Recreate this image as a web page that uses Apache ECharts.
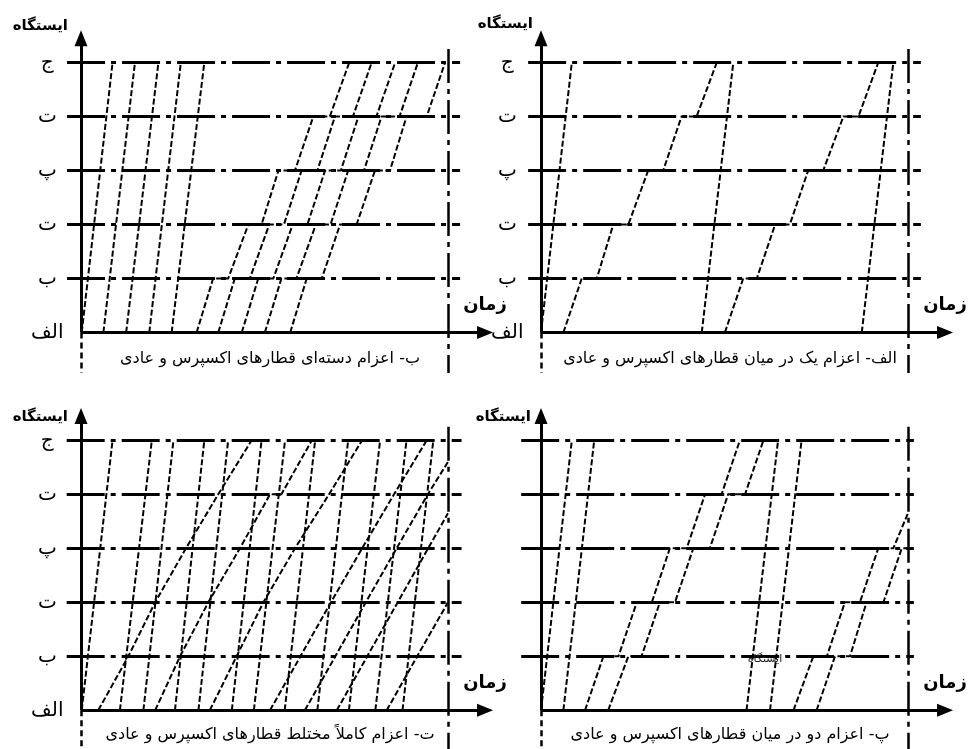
<!DOCTYPE html>
<html>
<head>
<meta charset="utf-8">
<script src="https://cdn.jsdelivr.net/npm/echarts@6/dist/echarts.min.js"></script>
<style>
  html, body { margin: 0; padding: 0; background: #fff; }
  #chart { width: 968px; height: 749px; }
</style>
</head>
<body>
<div id="chart"></div>
<script>
// Stations from the origin (bottom) to the terminus (top)
const stations = ['الف', 'ب', 'ت', 'پ', 'ت', 'ج'];
// An ordinary train arrives at and departs from every intermediate station
const ordinaryStops = [0, 1, 1, 2, 2, 3, 3, 4, 4, 5];

// الف: one express after each ordinary train — express [departure, arrival]
const alefExpress = [[0, 8.4], [43.8, 52.4], [87.4, 96.0]];
const alefOrdinary = [
  [6.1, 11.1, 15.2, 19.7, 23.8, 29.2, 33.3, 38.3, 42.4, 47.9],
  [50.1, 55.1, 58.8, 63.8, 67.8, 72.8, 76.9, 82.4, 86.5, 91.9]
];

// ب: express trains dispatched as a batch, then the ordinary batch
const beExpress = [[0.2, 8.6], [6.1, 14.7], [12.3, 21.1], [18.6, 27.2], [24.7, 33.6]];
const beOrdinary = [
  [31.5, 36.0, 40.1, 45.6, 49.2, 53.8, 58.3, 63.3, 67.8, 73.1],
  [37.4, 41.9, 46.0, 51.3, 55.3, 60.1, 64.4, 69.2, 74.1, 79.2],
  [43.8, 48.3, 52.4, 57.7, 61.7, 66.5, 70.8, 75.6, 80.5, 85.6],
  [50.1, 54.6, 58.7, 64.0, 68.0, 72.8, 77.1, 81.9, 86.8, 91.8],
  [57.0, 61.5, 65.6, 70.6, 75.1, 80.1, 84.2, 88.7, 94.2, 99.2]
];

// پ: two express trains, then two ordinary trains
const peExpress = [[0, 8.4], [6.1, 14.5], [56.0, 64.6], [62.4, 71.0]];
const peOrdinary = [
  [12.0, 17.0, 21.1, 26.1, 30.2, 35.1, 39.7, 44.7, 49.2, 54.2],
  [18.3, 23.8, 27.4, 32.4, 36.5, 41.5, 46.0, 51.0, 55.6, 60.6],
  [68.8, 74.2, 77.9, 82.8, 86.9, 91.9, 96.0],
  [75.1, 80.1, 84.2, 88.7, 93.3, 98.3]
];
// position [time, station] where a train leaves the diagram at its right edge
const peOrdinaryEdge = [null, null, [100, 3.65], [100, 3]];

// ت: express and ordinary trains fully mixed
const teExpress = [[0.2, 8.6], [10.6, 19.3], [17.0, 25.2], [25.6, 33.6], [32.0, 40.1], [41.1, 49.2],
  [47.1, 55.6], [55.5, 63.8], [64.4, 72.8], [73.0, 81.5], [80.2, 88.7], [87.6, 96.0]];
// ordinary trains as [time, station] points
const teOrdinary = [
  [[4.7, 0], [12.9, 1], [20.2, 2], [28.6, 3], [37.4, 4], [46.5, 5]],
  [[20.2, 0], [27.0, 1], [34.7, 2], [43.3, 3], [51.5, 4], [54.6, 4], [62.9, 5]],
  [[35.1, 0], [42.4, 1], [49.7, 2], [58.3, 3], [67.6, 4], [76.6, 5]],
  [[51.5, 0], [59.8, 1], [68.1, 2], [76.6, 3], [85.3, 4], [94.2, 5]],
  [[61.0, 0], [69.3, 1], [77.6, 2], [86.0, 3], [94.5, 4], [100, 4.6]],
  [[69.7, 0], [78.0, 1], [86.3, 2], [94.6, 3], [100, 3.65]],
  [[83.3, 0], [91.6, 1], [100, 2]]
];

const captions = [
  'ب- اعزام دسته\u200cای قطارهای اکسپرس و عادی',
  'الف- اعزام یک در میان قطارهای اکسپرس و عادی',
  'ت- اعزام کاملاً مختلط قطارهای اکسپرس و عادی',
  'پ- اعزام دو در میان قطارهای اکسپرس و عادی'
];
const axisNames = { station: 'ایستگاه', time: 'زمان' };

// ---- building the option ----
const FONT = 'DejaVu Sans';
const UNIT_X = 3.67;            // px per time unit
const X_MIN = -10, X_MAX = 115; // time axis range
const GRID_W = (X_MAX - X_MIN) * UNIT_X;
const GRID_H = 378;             // y range -1..6, 54 px per station

const panels = [
  { left: 81, top: 8.5, express: beExpress, ordinary: beOrdinary.map(t => ordinaryPath(t)),
    rows: [-3.8, 103.3], labels: true, nameGap: -17.5, namePad: 13, caption: 0, captionTop: 346 },
  { left: 541, top: 8.5, express: alefExpress, ordinary: alefOrdinary.map(t => ordinaryPath(t)),
    rows: [-3.5, 103.5], labels: true, nameGap: -16, namePad: 8, caption: 1, captionTop: 346 },
  { left: 81, top: 386.3, express: teExpress, ordinary: teOrdinary,
    rows: [-3.9, 103.7], labels: true, nameGap: -30.5, namePad: 13, caption: 2, captionTop: 722 },
  { left: 541, top: 386.3, express: peExpress, ordinary: peOrdinary.map((t, i) => ordinaryPath(t, peOrdinaryEdge[i])),
    rows: [-5.4, 101.6], labels: false, nameGap: -30.5, namePad: 10, caption: 3, captionTop: 722 }
];

function ordinaryPath(times, edge) {
  const pts = times.map((t, i) => [t, ordinaryStops[i]]);
  if (edge) pts.push(edge);
  return pts;
}
function expressPath(pair) { return [[pair[0], 0], [pair[1], 5]]; }

const grid = [], xAxis = [], yAxis = [], series = [], title = [];

panels.forEach((p, i) => {
  grid.push({ left: p.left + X_MIN * UNIT_X, top: p.top, width: GRID_W, height: GRID_H,
    containLabel: false, outerBoundsMode: 'none' });
  xAxis.push({
    gridIndex: i, type: 'value', min: X_MIN, max: X_MAX,
    axisLine: { show: true, onZero: true, lineStyle: { opacity: 0 } },
    axisTick: { show: false }, axisLabel: { show: false }, splitLine: { show: false },
    name: axisNames.time, nameLocation: 'end', nameGap: -18,
    nameTextStyle: { align: 'center', verticalAlign: 'bottom', padding: [0, 0, 18, 0],
      fontFamily: FONT, fontWeight: 'bold', fontSize: 18, color: '#000' }
  });
  yAxis.push({
    gridIndex: i, type: 'value', min: -1, max: 6, interval: 1,
    axisLine: { show: true, onZero: true, lineStyle: { opacity: 0 } },
    axisTick: { show: false }, splitLine: { show: false },
    // labels sit at the grid's left edge; a negative margin centres them about 34px left of the time origin
    axisLabel: { show: p.labels, margin: -3, align: 'center', fontFamily: FONT, fontSize: 20, color: '#000',
      formatter: v => (v >= 0 && v <= 5 ? stations[v] : '') },
    name: axisNames.station, nameLocation: 'end', nameGap: p.nameGap,
    nameTextStyle: { align: 'right', verticalAlign: 'middle', padding: [0, p.namePad, 0, 0],
      fontFamily: FONT, fontWeight: 'bold', fontSize: 15, color: '#000' }
  });

  // station lines (dash-dot)
  series.push({
    type: 'lines', coordinateSystem: 'cartesian2d', xAxisIndex: i, yAxisIndex: i, silent: true,
    lineStyle: { color: '#000', width: 3, opacity: 1, type: [38, 6, 5, 6] },
    data: [1, 2, 3, 4, 5].map(k => ({ coords: [[p.rows[0], k], [p.rows[1], k]] }))
  });

  // axes with arrows, end-of-period line
  const black = { color: '#000', opacity: 1 };
  series.push({
    type: 'line', xAxisIndex: i, yAxisIndex: i, data: [], silent: true, symbol: 'none',
    markLine: {
      silent: true, animation: false, label: { show: false }, symbol: 'none',
      itemStyle: { color: '#000' },
      data: [
        [{ coord: [0, 0], lineStyle: Object.assign({ width: 3, type: 'solid' }, black) },
         { coord: [0, 5.45], symbol: 'triangle', symbolSize: [13, 16] }],
        [{ coord: [0, 0], lineStyle: Object.assign({ width: 2.5, type: [6, 4] }, black) },
         { coord: [0, -0.75] }],
        [{ coord: [0, 0], lineStyle: Object.assign({ width: 3, type: 'solid' }, black) },
         { coord: [110.1, 0], symbol: 'triangle', symbolSize: [13, 16] }],
        [{ coord: [100, 5.25], lineStyle: Object.assign({ width: 2.5, type: [34, 6, 5, 6] }, black) },
         { coord: [100, -0.75] }]
      ]
    }
  });

  // train paths
  const paths = p.express.map(expressPath).concat(p.ordinary);
  series.push({
    type: 'lines', coordinateSystem: 'cartesian2d', xAxisIndex: i, yAxisIndex: i, polyline: true, silent: true,
    lineStyle: { color: '#000', width: 2, opacity: 1, type: [6, 2.5] },
    data: paths.map(c => ({ coords: c }))
  });

  title.push({
    text: captions[p.caption], left: p.left + 184, top: p.captionTop, textAlign: 'center',
    textStyle: { fontFamily: FONT, fontSize: 16, fontWeight: 'normal', color: '#000' }
  });
});

title.push({
  text: axisNames.station, left: 760, top: 649, textAlign: 'center',
  textStyle: { fontFamily: FONT, fontSize: 11, fontWeight: 'normal', color: '#222' }
});

const chart = echarts.init(document.getElementById('chart'), null, { renderer: 'canvas' });
chart.setOption({ animation: false, backgroundColor: '#fff', title, grid, xAxis, yAxis, series });
</script>
</body>
</html>
